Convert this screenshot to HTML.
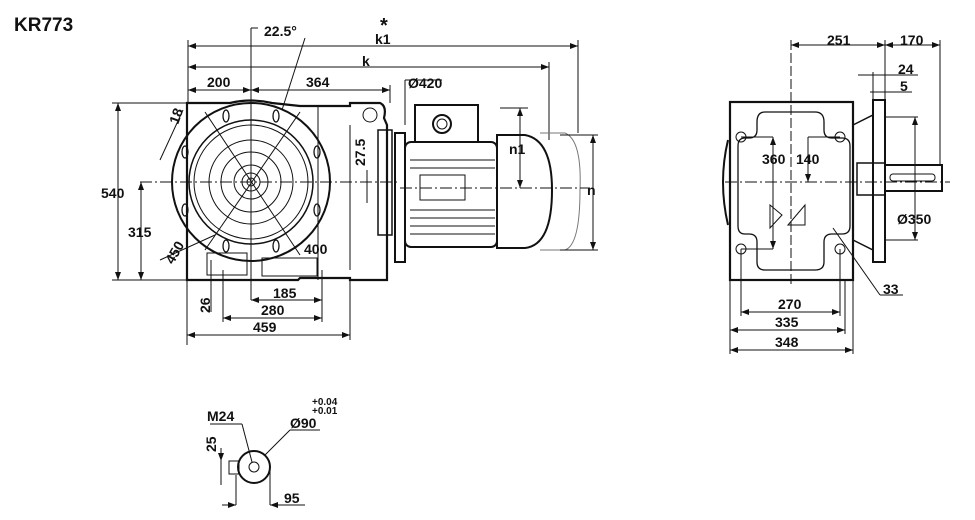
<!DOCTYPE html>
<html><head><meta charset="utf-8"><style>
html,body{margin:0;padding:0;background:#fff;width:975px;height:520px;overflow:hidden}
text{font-family:"Liberation Sans",sans-serif;font-weight:bold;font-size:14px;fill:#111}
</style></head><body>
<svg width="975" height="520" viewBox="0 0 975 520" xmlns="http://www.w3.org/2000/svg">
<defs><marker id="a" markerWidth="8" markerHeight="6" refX="8" refY="3" orient="auto-start-reverse"><path d="M0,0 L8,3 L0,6z" fill="#111"/></marker></defs>
<text x="14" y="31" style="font-size:19px">KR773</text>
<g stroke="#111" fill="none" stroke-width="1">
<line x1="188" y1="46" x2="578" y2="46" marker-start="url(#a)" marker-end="url(#a)"/>
<line x1="188" y1="67" x2="549" y2="67" marker-start="url(#a)" marker-end="url(#a)"/>
<line x1="188" y1="90" x2="251" y2="90" marker-start="url(#a)" marker-end="url(#a)"/>
<line x1="251" y1="90" x2="390" y2="90" marker-start="url(#a)" marker-end="url(#a)"/>
<line x1="188" y1="40" x2="188" y2="103"/><line x1="578" y1="40" x2="578" y2="133"/><line x1="549" y1="62" x2="549" y2="140"/>
<line x1="390" y1="85" x2="390" y2="103"/>
<line x1="251" y1="28" x2="251" y2="300"/><line x1="251" y1="28" x2="258" y2="28"/>
<line x1="305" y1="38" x2="282" y2="110"/>
<line x1="405" y1="80" x2="405" y2="125"/><line x1="405" y1="80" x2="442" y2="80"/>
<path d="M187,103 L230,103 Q251,98 272,103 L300,106 L350,106 L350,103 L380,103 Q387,106 384,118 L387,125 L387,280 L350,280 L350,278 L300,278 L298,280 L187,280 Z" stroke-width="2.2"/>
<circle cx="251" cy="182" r="79" stroke-width="2"/>
<circle cx="251" cy="182" r="62" stroke-width="1.5"/>
<circle cx="251" cy="182" r="57"/>
<circle cx="251" cy="182" r="42"/>
<circle cx="251" cy="182" r="30"/>
<circle cx="251" cy="182" r="17"/>
<circle cx="251" cy="182" r="9"/>
<circle cx="251" cy="182" r="4"/>
<circle cx="370" cy="115" r="7"/>
<line x1="350" y1="125" x2="350" y2="270"/><line x1="318" y1="106" x2="318" y2="280"/>
<line x1="140" y1="182" x2="400" y2="182" stroke-dasharray="12,3,2,3"/>
<line x1="205" y1="112" x2="300" y2="255"/><line x1="300" y1="112" x2="205" y2="250"/>
<g stroke-width="1.3">
<ellipse cx="226" cy="116" rx="3" ry="6"/><ellipse cx="276" cy="116" rx="3" ry="6"/>
<ellipse cx="185" cy="152" rx="3" ry="6"/><ellipse cx="317" cy="152" rx="3" ry="6"/>
<ellipse cx="185" cy="210" rx="3" ry="6"/><ellipse cx="317" cy="210" rx="3" ry="6"/>
<ellipse cx="226" cy="246" rx="3" ry="6"/><ellipse cx="276" cy="246" rx="3" ry="6"/>
</g>
<rect x="207" y="253" width="40" height="22"/><rect x="262" y="258" width="55" height="18"/>
<rect x="378" y="130" width="14" height="105" stroke-width="1.5"/>
<rect x="395" y="133" width="10" height="129" stroke-width="2"/>
<rect x="405" y="142" width="92" height="105" rx="6" stroke-width="2"/>
<rect x="415" y="105" width="63" height="37" stroke-width="2"/>
<circle cx="442" cy="124" r="9" stroke-width="2"/><circle cx="442" cy="124" r="5"/>
<rect x="420" y="175" width="45" height="25"/>
<line x1="410" y1="160" x2="495" y2="160"/><line x1="410" y1="168" x2="495" y2="168"/>
<line x1="410" y1="210" x2="495" y2="210"/><line x1="410" y1="218" x2="495" y2="218"/><line x1="410" y1="226" x2="495" y2="226"/><line x1="410" y1="234" x2="495" y2="234"/>
<path d="M497,135 L525,135 Q552,140 552,190 Q552,245 525,248 L497,248 Z" stroke-width="2"/>
<path d="M540,133 L565,133 Q582,140 580,190 Q580,245 565,250 L540,250" stroke="#777"/>
<line x1="400" y1="188" x2="590" y2="188" stroke-dasharray="12,3,2,3"/>
<line x1="520" y1="108" x2="520" y2="188" marker-start="url(#a)" marker-end="url(#a)"/>
<line x1="500" y1="108" x2="528" y2="108"/>
<line x1="593" y1="135" x2="593" y2="250" marker-start="url(#a)" marker-end="url(#a)"/>
<line x1="560" y1="135" x2="598" y2="135"/><line x1="560" y1="250" x2="598" y2="250"/>
<line x1="367" y1="170" x2="367" y2="203"/>
<line x1="118" y1="103" x2="118" y2="280" marker-start="url(#a)" marker-end="url(#a)"/>
<line x1="112" y1="103" x2="187" y2="103"/><line x1="112" y1="280" x2="187" y2="280"/>
<line x1="141" y1="182" x2="141" y2="280" marker-start="url(#a)" marker-end="url(#a)"/>
<line x1="160" y1="160" x2="183" y2="110"/><line x1="160" y1="260" x2="215" y2="235"/>
<line x1="187" y1="280" x2="187" y2="345"/><line x1="350" y1="280" x2="350" y2="340"/>
<line x1="223" y1="270" x2="223" y2="322"/><line x1="322" y1="270" x2="322" y2="322"/>
<line x1="251" y1="300" x2="322" y2="300" marker-start="url(#a)" marker-end="url(#a)"/>
<line x1="223" y1="318" x2="322" y2="318" marker-start="url(#a)" marker-end="url(#a)"/>
<line x1="187" y1="335" x2="350" y2="335" marker-start="url(#a)" marker-end="url(#a)"/>
<line x1="211" y1="260" x2="211" y2="312"/>
<rect x="730" y="102" width="123" height="178" stroke-width="2.2"/>
<path d="M765,112 L815,112 Q824,112 824,122 L824,130 Q824,138 832,138 L842,138 Q850,138 850,146 L850,226 Q850,234 842,234 L832,234 Q824,234 824,242 L824,262 Q824,270 815,270 L765,270 Q757,270 757,262 L757,242 Q757,234 749,234 L745,234 Q738,234 738,226 L738,146 Q738,138 745,138 L749,138 Q757,138 757,130 L757,122 Q757,112 765,112 Z" stroke-width="1.3"/>
<circle cx="741" cy="137" r="5"/><circle cx="840" cy="137" r="5"/><circle cx="741" cy="249" r="5"/><circle cx="840" cy="249" r="5"/>
<path d="M728,140 Q718,182 728,225" stroke-width="2"/>
<path d="M853,125 L873,115 L873,250 L853,240" stroke-width="1.5"/>
<rect x="873" y="100" width="12" height="162" stroke-width="2"/>
<rect x="857" y="163" width="28" height="32" stroke-width="1.5"/>
<rect x="885" y="165" width="57" height="26" stroke-width="2"/>
<rect x="890" y="174" width="45" height="7" rx="3"/>
<path d="M770,205 L782,215 L770,228 Z"/><path d="M788,225 L805,205 L805,225 Z"/>
<line x1="725" y1="182" x2="950" y2="182" stroke-dasharray="12,3,2,3"/>
<line x1="791" y1="40" x2="791" y2="285" stroke-dasharray="10,3"/>
<line x1="791" y1="45" x2="885" y2="45" marker-start="url(#a)" marker-end="url(#a)"/>
<line x1="885" y1="45" x2="940" y2="45" marker-start="url(#a)" marker-end="url(#a)"/>
<line x1="885" y1="40" x2="885" y2="100"/><line x1="940" y1="40" x2="940" y2="165"/>
<line x1="858" y1="75" x2="918" y2="75"/><line x1="870" y1="92" x2="912" y2="92"/>
<line x1="873" y1="72" x2="873" y2="100"/>
<line x1="915" y1="117" x2="915" y2="240" marker-start="url(#a)" marker-end="url(#a)"/>
<line x1="885" y1="117" x2="918" y2="117"/><line x1="885" y1="240" x2="918" y2="240"/>
<line x1="773" y1="137" x2="773" y2="249" marker-start="url(#a)" marker-end="url(#a)"/>
<line x1="741" y1="137" x2="773" y2="137"/><line x1="741" y1="249" x2="773" y2="249"/>
<line x1="808" y1="137" x2="808" y2="182" marker-end="url(#a)"/><line x1="808" y1="137" x2="840" y2="137"/>
<line x1="833" y1="228" x2="880" y2="295"/><line x1="880" y1="295" x2="903" y2="295"/>
<line x1="741" y1="249" x2="741" y2="316"/><line x1="840" y1="249" x2="840" y2="316"/>
<line x1="730" y1="280" x2="730" y2="354"/><line x1="853" y1="280" x2="853" y2="354"/><line x1="845" y1="280" x2="845" y2="334"/>
<line x1="741" y1="312" x2="840" y2="312" marker-start="url(#a)" marker-end="url(#a)"/>
<line x1="730" y1="330" x2="845" y2="330" marker-start="url(#a)" marker-end="url(#a)"/>
<line x1="730" y1="350" x2="853" y2="350" marker-start="url(#a)" marker-end="url(#a)"/>
<circle cx="254" cy="467" r="16" stroke-width="2"/><circle cx="254" cy="467" r="5"/>
<rect x="229" y="461" width="10" height="13"/>
<line x1="221" y1="455" x2="221" y2="485"/>
<line x1="221" y1="448" x2="221" y2="461" marker-end="url(#a)"/>
<line x1="210" y1="424" x2="242" y2="424"/><line x1="242" y1="424" x2="252" y2="462"/>
<line x1="290" y1="430" x2="320" y2="430"/><line x1="290" y1="430" x2="265" y2="455"/>
<line x1="236" y1="475" x2="236" y2="505"/><line x1="270" y1="467" x2="270" y2="505"/>
<line x1="222" y1="505" x2="236" y2="505" marker-end="url(#a)"/><line x1="270" y1="505" x2="305" y2="505" marker-start="url(#a)"/>
</g>
<text x="380" y="32" style="font-size:20px">*</text>
<text x="375" y="44">k1</text>
<text x="362" y="66">k</text>
<text x="207" y="87">200</text>
<text x="306" y="87">364</text>
<text x="408" y="88">Ø420</text>
<text x="264" y="36">22.5°</text>
<text x="509" y="154">n1</text>
<text x="587" y="195">n</text>
<text x="101" y="198">540</text>
<text x="128" y="237">315</text>
<text x="304" y="254">400</text>
<text x="273" y="298">185</text>
<text x="261" y="315">280</text>
<text x="253" y="332">459</text>
<text transform="translate(365,166) rotate(-90)">27.5</text>
<text transform="translate(178,125) rotate(-70)">18</text>
<text transform="translate(173,265) rotate(-60)">450</text>
<text transform="translate(210,313) rotate(-90)">26</text>
<text x="827" y="45">251</text>
<text x="900" y="45">170</text>
<text x="898" y="74">24</text>
<text x="900" y="91">5</text>
<text x="762" y="164">360</text>
<text x="796" y="164">140</text>
<text x="897" y="224">Ø350</text>
<text x="883" y="294">33</text>
<text x="778" y="309">270</text>
<text x="775" y="327">335</text>
<text x="775" y="347">348</text>
<text x="207" y="421">M24</text>
<text x="290" y="428">Ø90</text>
<text x="312" y="405" style="font-size:10px">+0.04</text>
<text x="312" y="414" style="font-size:10px">+0.01</text>
<text transform="translate(216,452) rotate(-90)">25</text>
<text x="284" y="503">95</text>
</svg>
</body></html>
